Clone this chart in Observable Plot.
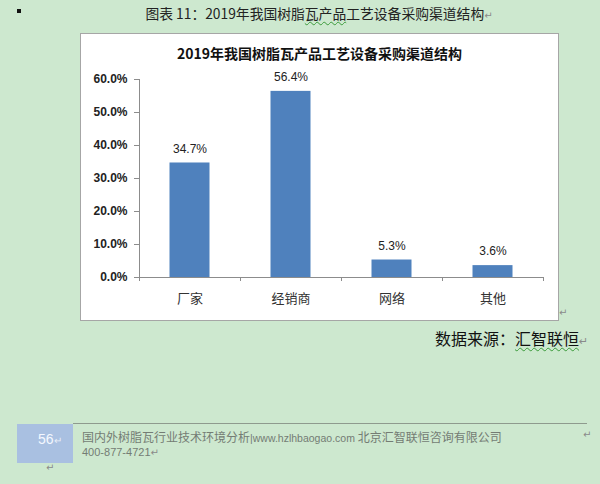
<!DOCTYPE html>
<html>
<head>
<meta charset="utf-8">
<script src="https://cdn.jsdelivr.net/npm/d3@7"></script>
<script src="https://cdn.jsdelivr.net/npm/@observablehq/plot@0.6"></script>
<style>
  html, body { margin: 0; padding: 0; }
  body { width: 600px; height: 484px; background: #cde8cf; position: relative; overflow: hidden;
         font-family: "Liberation Sans", "Noto Sans CJK SC", sans-serif; }
  .abs { position: absolute; white-space: nowrap; }
  .pm { color: #8a8a8a; font-family: "DejaVu Sans", sans-serif; }
  .wavy { text-decoration: underline wavy #3a9a3a; text-decoration-thickness: 1px; text-underline-offset: 2px; }
</style>
</head>
<body>
<div class="abs" style="left:17px;top:9px;width:4px;height:4px;background:#111;"></div>
<div class="abs" id="header" style="left:0;width:638px;top:3px;text-align:center;font-size:13.8px;color:#222;font-family:'Noto Sans CJK SC',sans-serif;line-height:20px;"></div>

<div class="abs" style="left:80px;top:33px;width:477px;height:286px;background:#fff;border:1px solid #a6a6a6;"></div>
<div class="abs" id="ctitle" style="left:80px;width:479px;top:42px;text-align:center;font-size:14px;font-weight:bold;color:#111;font-family:'Noto Sans CJK SC',sans-serif;line-height:22px;"></div>
<div class="abs" id="chart" style="left:80px;top:68px;"></div>
<div class="abs pm" style="left:559px;top:307px;font-size:10px;">↵</div>

<div class="abs" id="source" style="left:435px;top:327px;font-size:16px;color:#111;font-family:'Noto Sans CJK SC',sans-serif;line-height:22px;"></div>

<div class="abs" style="left:17px;top:424px;width:56px;height:39px;background:#a9c0e1;"></div>
<div class="abs" style="left:38px;top:430px;font-size:14px;color:#f4f8ff;line-height:18px;">56<span style="font-size:10px;color:#e8eef8;">↵</span></div>
<div class="abs" style="left:73px;top:423px;width:514px;height:1px;background:#8e9a8e;"></div>
<div class="abs" id="footer1" style="left:82px;top:428px;font-size:12px;color:#747c74;line-height:18px;font-family:'Noto Sans CJK SC',sans-serif;"></div>
<div class="abs" style="left:82px;top:444px;font-size:11px;color:#747c74;line-height:16px;">400-877-4721<span class="pm" style="font-size:10px;">↵</span></div>
<div class="abs pm" style="left:583px;top:429px;font-size:10px;">↵</div>
<div class="abs pm" style="left:46px;top:462px;font-size:10px;">↵</div>

<script>
// ---- data ----
const headerText = "图表 11：2019年我国树脂瓦产品工艺设备采购渠道结构";
const chartTitle = "2019年我国树脂瓦产品工艺设备采购渠道结构";
const sourceText = "数据来源：汇智联恒";
const footerTitle = "国内外树脂瓦行业技术环境分析";
const footerUrl = "|www.hzlhbaogao.com";
const footerCompany = "北京汇智联恒咨询有限公司";

const categories = ["厂家", "经销商", "网络", "其他"];
const shares = [34.7, 56.4, 5.3, 3.6];
const yTicks = [0, 10, 20, 30, 40, 50, 60];

// ---- texts ----
document.getElementById("header").innerHTML =
  headerText.replace("瓦产品", '<span class="wavy">瓦产品</span>') +
  '<span class="pm" style="font-size:10px;">↵</span>';
document.getElementById("ctitle").textContent = chartTitle;
document.getElementById("source").innerHTML =
  sourceText.replace("汇智联恒", '<span class="wavy">汇智联恒</span>') +
  '<span class="pm" style="font-size:11px;">↵</span>';
document.getElementById("footer1").innerHTML =
  footerTitle + '<span style="font-family:\'Liberation Sans\',sans-serif;font-size:10.5px;">' + footerUrl + ' </span>' + footerCompany;

// ---- chart ----
const data = categories.map((c, i) => ({category: c, index: i, share: shares[i]}));
const boundaries = d3.range(categories.length + 1);
const centers = categories.map((c, i) => i + 0.5);

const chart = Plot.plot({
  width: 478,
  height: 252,
  marginTop: 11,
  marginBottom: 43,
  marginLeft: 59,
  marginRight: 15,
  style: {background: "transparent", fontFamily: "'Liberation Sans', 'Noto Sans CJK SC', sans-serif", overflow: "visible"},
  x: {domain: [0, categories.length], label: null},
  y: {domain: [0, 60], label: null},
  marks: [
    Plot.rectY(data, {x1: "index", x2: d => d.index + 1, y: "share", fill: "#4f81bd", insetLeft: 30.5, insetRight: 30.5}),
    Plot.ruleY([0], {stroke: "#8c8c8c"}),
    Plot.ruleX([0], {y1: 0, y2: 60, stroke: "#8c8c8c"}),
    Plot.axisY({ticks: yTicks, tickSize: 5, tickPadding: 7, tickFormat: d => d.toFixed(1) + "%", label: null,
      stroke: "#8c8c8c", fill: "#222", fontSize: 12, fontWeight: "bold"}),
    Plot.axisX({ticks: boundaries, tickSize: 4, tickFormat: () => "", label: null, stroke: "#8c8c8c"}),
    Plot.axisX({ticks: centers, tickSize: 0, tickPadding: 16, tickFormat: d => categories[Math.floor(d)], label: null,
      fill: "#333", fontSize: 13}),
    Plot.text(data, {x: d => d.index + 0.5, y: "share", text: d => d.share.toFixed(1) + "%",
      dy: -14, fontSize: 12, fill: "#222"})
  ]
});
document.getElementById("chart").appendChild(chart);
</script>
</body>
</html>
